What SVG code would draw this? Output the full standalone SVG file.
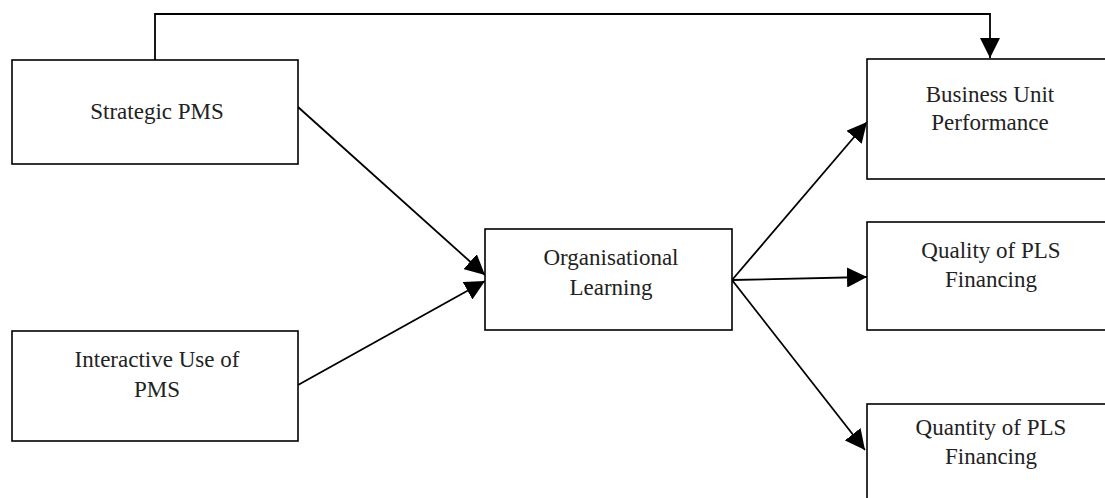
<svg xmlns="http://www.w3.org/2000/svg" width="1105" height="498" viewBox="0 0 1105 498">
<style>
.box{fill:#fff;stroke:#000;stroke-width:1.6}
.lbl{font-family:"Liberation Serif","Times New Roman",serif;font-size:23px;fill:#222;text-anchor:middle}
.ln{fill:none;stroke:#000;stroke-width:1.8}
</style>
<defs>
<marker id="ah" markerUnits="userSpaceOnUse" markerWidth="20" markerHeight="20" viewBox="0 0 20 20" refX="20" refY="10" orient="auto">
<path d="M0,0 L20,10 L0,20 Z" fill="#000"/>
</marker>
</defs>
<rect width="1105" height="498" fill="#fff"/>
<g id="connectors">
<path class="ln" d="M155,60 V14 H990 V58" marker-end="url(#ah)"/>
<path class="ln" d="M298,107 L485,275" marker-end="url(#ah)"/>
<path class="ln" d="M298,385 L485,281" marker-end="url(#ah)"/>
<path class="ln" d="M732,280 L867,122" marker-end="url(#ah)"/>
<path class="ln" d="M732,280 L867,277" marker-end="url(#ah)"/>
<path class="ln" d="M732,280 L865,450" marker-end="url(#ah)"/>
</g>
<g id="strategic-pms">
<rect class="box" x="12" y="60" width="286" height="104"/>
<text class="lbl" x="157" y="119">Strategic PMS</text>
</g>
<g id="interactive-use">
<rect class="box" x="12" y="331" width="286" height="110"/>
<text class="lbl" x="157" y="367">Interactive Use of</text>
<text class="lbl" x="157" y="397">PMS</text>
</g>
<g id="organisational-learning">
<rect class="box" x="485" y="229" width="247" height="101"/>
<text class="lbl" x="611" y="265">Organisational</text>
<text class="lbl" x="611" y="295">Learning</text>
</g>
<g id="business-unit-performance">
<rect class="box" x="867" y="59" width="250" height="120"/>
<text class="lbl" x="990" y="102">Business Unit</text>
<text class="lbl" x="990" y="130">Performance</text>
</g>
<g id="quality-pls">
<rect class="box" x="867" y="222" width="250" height="108"/>
<text class="lbl" x="991" y="258">Quality of PLS</text>
<text class="lbl" x="991" y="287">Financing</text>
</g>
<g id="quantity-pls">
<rect class="box" x="867" y="404" width="250" height="110"/>
<text class="lbl" x="991" y="435">Quantity of PLS</text>
<text class="lbl" x="991" y="464">Financing</text>
</g>
</svg>
